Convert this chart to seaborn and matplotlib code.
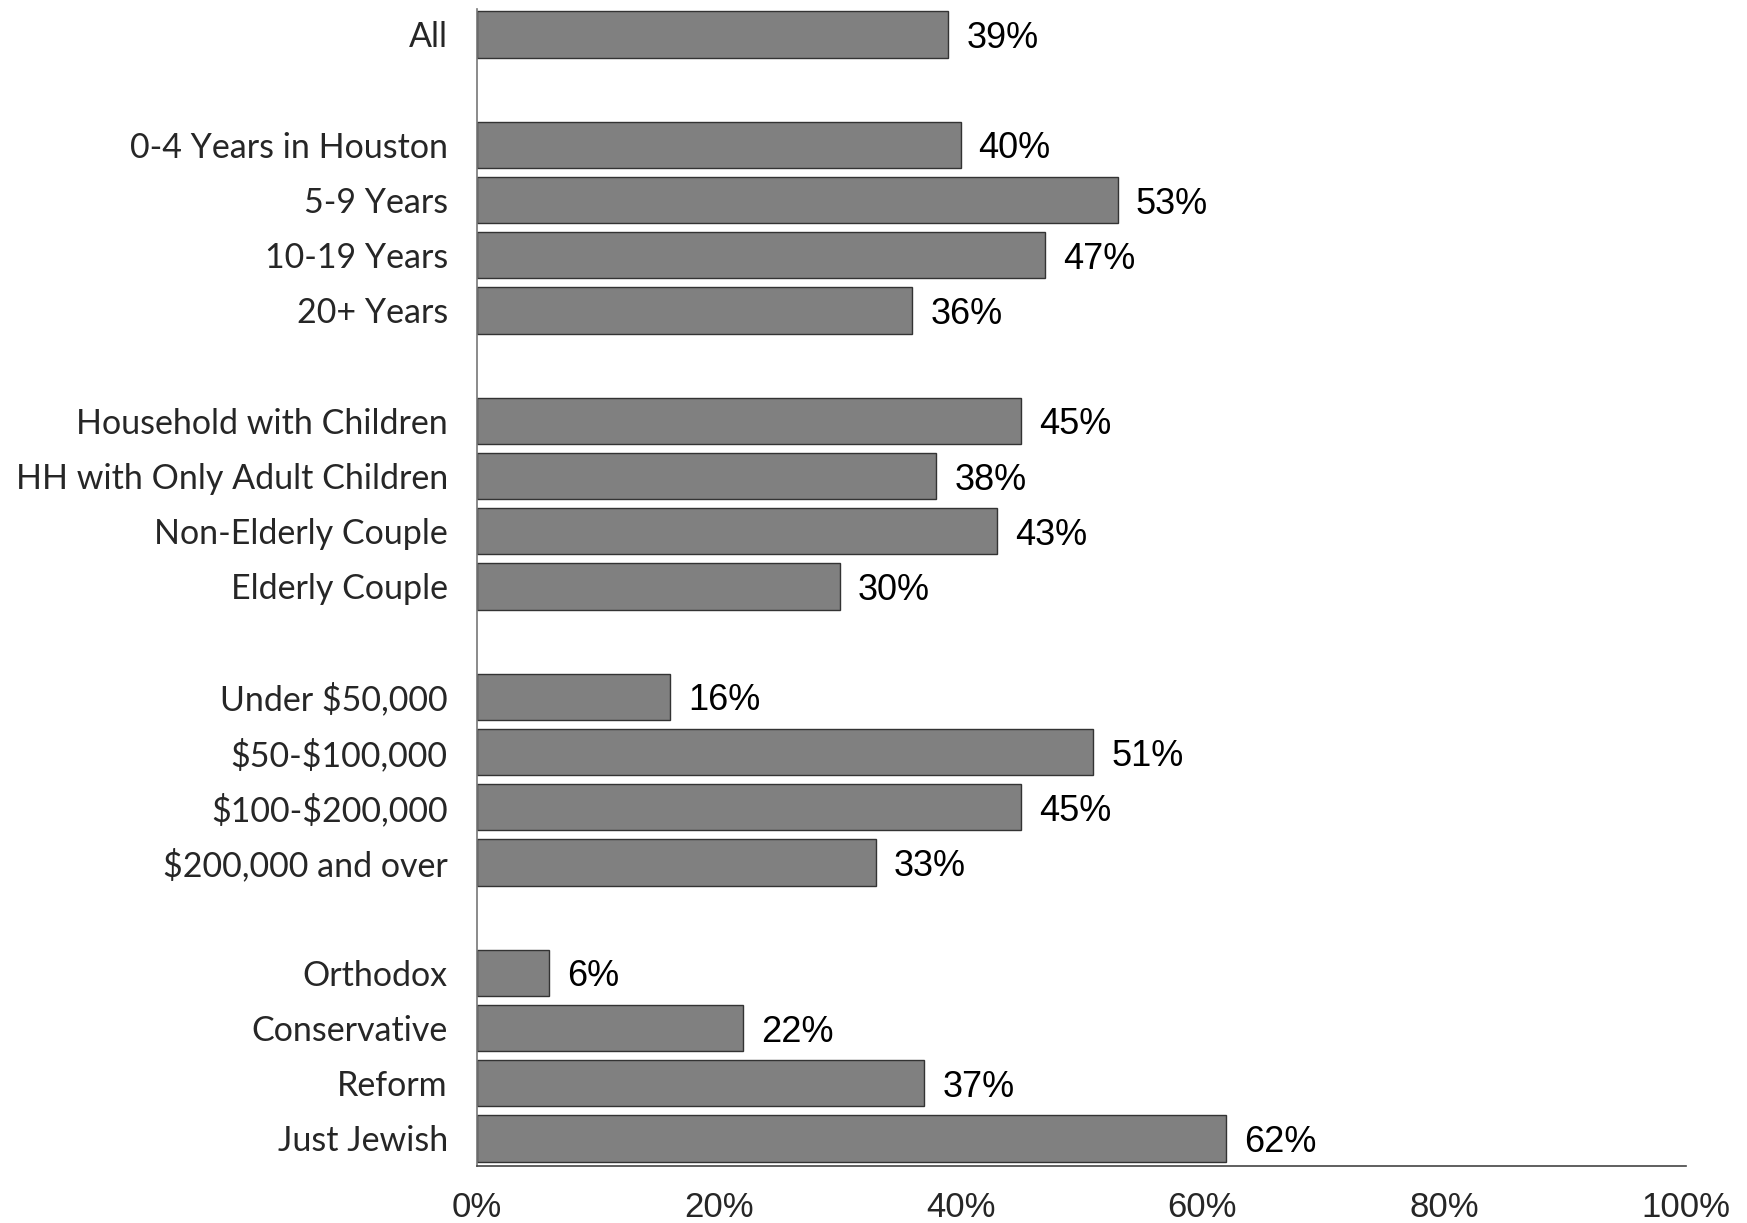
import seaborn as sns
import matplotlib.pyplot as plt
import pandas as pd

# groups of the survey breakdown, top to bottom
labels = [
    "All",
    "0-4 Years in Houston", "5-9 Years", "10-19 Years", "20+ Years",
    "Household with Children", "HH with Only Adult Children",
    "Non-Elderly Couple", "Elderly Couple",
    "Under $50,000", "$50-$100,000", "$100-$200,000", "$200,000 and over",
    "Orthodox", "Conservative", "Reform", "Just Jewish",
]
values = [39, 40, 53, 47, 36, 45, 38, 43, 30, 16, 51, 45, 33, 6, 22, 37, 62]
group_sizes = [1, 4, 4, 4, 4]
x_ticks = [0, 20, 40, 60, 80, 100]
x_tick_labels = ["0%", "20%", "40%", "60%", "80%", "100%"]


def _build_order():
    # blank placeholder rows between groups
    order, i = [], 0
    for g, size in enumerate(group_sizes):
        if g > 0:
            order.append(" " * g)
        order.extend(labels[i:i + size])
        i += size
    return order


df = pd.DataFrame({"label": labels, "pct": values})
order = _build_order()

sns.set_style("white")
plt.rcParams["font.family"] = ["Liberation Sans", "DejaVu Sans"]
plt.rcParams["text.parse_math"] = False

fig = plt.figure(figsize=(17.47, 12.23), dpi=100)
ax = fig.add_axes([0.273, 0.0466, 0.692, 0.946])

sns.barplot(
    data=df,
    x="pct",
    y="label",
    order=order,
    orient="h",
    color="#808080",
    saturation=1,
    edgecolor="#333333",
    linewidth=1,
    width=0.84,
    ax=ax,
)

texts = ax.bar_label(ax.containers[0], fmt="%.0f%%", padding=13,
                     fontsize=26, color="black")
for t in texts:
    t.set_va("center_baseline")

ax.set_xlim(0, 100)
ax.set_ylim(len(order) - 0.5, -0.46)
ax.set_xticks(x_ticks)
ax.set_xticklabels(x_tick_labels, fontsize=25)
ax.set_yticks(range(len(order)))
ax.set_yticklabels([o if o.strip() else "" for o in order],
                   fontsize=24.5, family=["Lato", "DejaVu Sans"])
ax.tick_params(axis="both", length=0)
ax.tick_params(axis="x", pad=18)
ax.tick_params(axis="y", pad=21)
ax.set_xlabel("")
ax.set_ylabel("")

sns.despine(ax=ax, top=True, right=True)
ax.spines["left"].set_color("#777777")
ax.spines["left"].set_linewidth(1.2)
ax.spines["bottom"].set_color("#444444")
ax.spines["bottom"].set_linewidth(1.2)

fig.savefig("out.png", dpi=100)
